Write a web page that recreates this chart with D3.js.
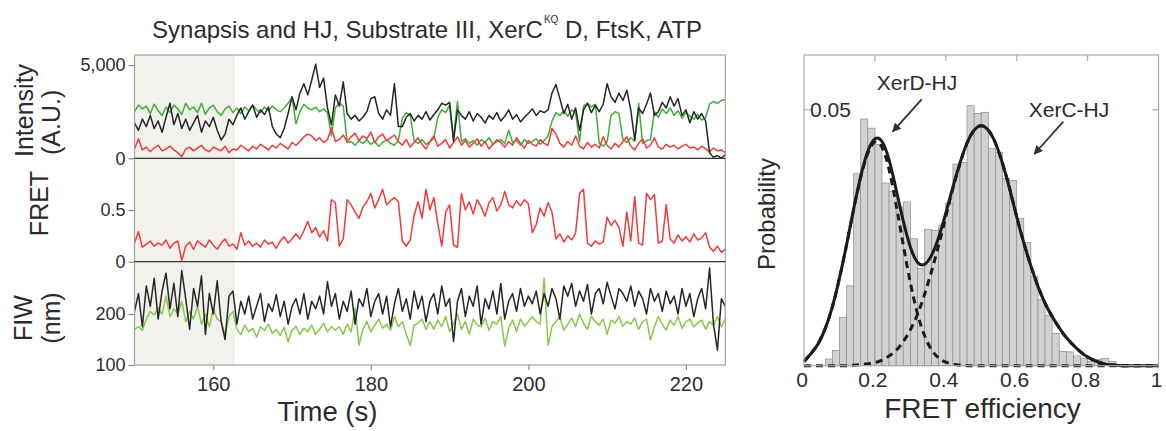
<!DOCTYPE html>
<html>
<head>
<meta charset="utf-8">
<script src="https://cdn.jsdelivr.net/npm/d3@7"></script>
<style>
body{margin:0;background:#fff;}
text{font-family:"Liberation Sans",Arial,Helvetica,sans-serif;fill:#2b2b2b;}
</style>
</head>
<body>
<svg id="chart" width="1166" height="431"></svg>
<script>
// ---- trace data (one value every frameStep seconds, starting at frameStart) ----
var frameStart = 150, frameStep = 0.5;
var shadeEnd = 162.75;
var timeTicks = [160, 180, 200, 220];

var greenIntensity = [2500,2850,2650,2800,2400,2900,2550,2300,2750,2450,
  2850,2650,2350,2950,2600,2750,2450,2950,2350,2700,
  2850,2500,2300,2650,2800,2450,
  2700,2400,2750,2550,2850,2600,2450,2750,2550,2800,2600,2500,2700,
  2950,3250,1850,2500,2900,2700,2600,2750,2500,2650,2450,
  1200,2700,2950,2800,850,
  900,700,950,800,1000,750,900,650,850,1000,800,700,950,
  2150,2450,2300,
  950,800,1000,750,900,1050,
  2200,2600,2450,2850,1100,3050,
  900,1050,800,950,700,1000,850,1100,750,900,1000,800,1500,850,950,700,1000,800,900,1050,750,950,1200,
  2000,2450,2300,2550,2250,2600,2400,
  900,
  2800,2950,2750,2900,
  800,650,900,
  2300,2500,2400,
  1000,850,1100,900,
  2950,
  800,950,1000,
  2500,2200,2650,2400,2700,2300,2550,2150,2450,2250,2100,2350,2050,2200,
  2900,3050,2950,3100,3150];

var blackIntensity = [1900,1500,2100,1700,2300,1600,2000,1400,2200,2950,
  1800,2400,1600,2100,1500,1900,2300,1400,2000,1700,
  2200,1500,980,1300,2100,1800,
  2300,2700,2100,2500,2850,2200,2600,2350,2750,
  1700,1300,1100,1600,
  2400,3300,2600,3500,
  4000,3400,4200,5050,3800,4300,2700,
  1800,3400,2800,4100,2400,2100,
  2300,2000,2200,2500,3200,3300,2400,2100,2600,
  2300,4000,1700,
  1700,2200,2400,2000,2300,2100,2500,2050,2350,
  2600,2950,2850,3000,
  900,2600,2300,2100,2500,2000,2400,2200,1900,2300,2100,2450,2000,2250,2600,2100,2350,1950,2200,
  2400,2650,2300,2550,2450,2600,
  3500,3950,3200,
  2400,2900,2100,2700,
  1500,
  2600,2950,2450,2850,2500,
  2900,4000,
  3300,3000,3500,3100,
  3650,2600,980,
  2700,2400,2900,
  3500,2300,2500,
  3000,2700,3300,2800,3200,
  2300,2600,1900,2500,2100,2400,2000,
  300,50,150,0,200];

var redIntensity = [500,1050,450,600,350,550,700,400,500,650,
  450,300,90,500,600,400,550,700,450,350,
  600,500,400,650,300,500,
  450,700,550,400,650,500,750,600,450,700,
  550,800,650,500,850,700,900,1150,1300,1200,
  950,1100,850,1000,
  1650,900,
  1000,1250,900,1150,1350,950,1200,1050,1400,850,1150,1300,950,1100,1250,900,
  700,1000,600,850,1100,750,500,900,1200,650,
  800,1000,550,850,1150,700,950,600,800,1050,
  650,900,500,750,1000,850,600,900,700,1100,
  800,550,950,750,650,1000,800,700,
  1600,1300,
  800,600,900,700,1200,650,500,850,600,750,
  550,1150,700,500,800,600,900,1150,650,450,
  800,1050,550,700,1100,600,500,750,600,700,
  500,650,750,550,600,450,650,500,350,550,
  400,450,300];

var fretTrace = [0.18,0.29,0.14,0.17,0.2,0.15,0.18,0.16,0.21,0.13,
  0.18,0.2,0.01,0.15,0.19,0.12,0.2,0.17,0.14,0.21,
  0.16,0.12,0.18,0.22,0.15,0.17,
  0.12,0.28,0.16,0.2,0.15,0.18,0.14,0.21,0.17,0.19,0.13,0.2,0.24,0.18,0.22,
  0.27,0.22,0.3,0.39,0.28,0.33,0.24,0.3,0.2,
  0.6,0.57,0.15,0.22,0.6,
  0.55,0.48,0.42,0.53,0.58,0.66,0.52,0.6,0.7,0.55,0.59,0.62,
  0.58,
  0.2,0.15,0.21,
  0.45,0.58,0.42,0.7,0.5,0.62,
  0.37,0.15,0.48,0.55,0.16,0.14,
  0.66,0.5,0.58,0.46,0.6,0.53,0.44,0.57,0.62,0.49,0.55,
  0.68,
  0.55,0.52,0.59,0.54,0.6,0.56,
  0.28,0.36,
  0.52,0.44,0.57,0.48,
  0.22,0.27,0.19,0.25,0.21,0.28,
  0.66,0.7,
  0.18,0.15,0.2,0.17,0.19,
  0.43,0.35,0.4,0.33,
  0.15,0.48,0.2,0.63,0.18,0.16,
  0.66,0.6,0.65,
  0.18,0.2,0.55,
  0.22,0.18,0.26,0.2,0.24,0.19,0.27,0.21,0.23,
  0.28,
  0.14,0.1,0.15,0.09,0.12];

var blackFiw = [205,240,175,255,215,270,190,245,280,210,
  260,195,285,230,170,250,215,275,160,240,
  200,265,185,150,235,245,
  180,225,200,235,190,215,240,185,220,205,238,195,225,180,215,230,200,240,190,225,210,235,200,263,215,
  240,190,225,205,245,180,230,215,250,195,225,240,200,235,175,220,250,205,230,190,245,210,235,185,225,
  240,200,255,215,230,146,225,250,195,235,215,255,180,230,210,245,200,260,190,225,240,205,250,215,235,
  220,245,200,240,215,250,230,190,255,235,260,215,245,225,258,200,240,250,220,262,235,210,250,240,225,
  255,215,245,230,200,250,225,240,205,245,220,235,200,250,215,240,195,230,250,210,290,180,129,230,215];

var greenFiw = [170,175,168,190,205,198,212,200,235,195,
  210,200,225,185,205,190,215,180,200,175,
  210,190,185,160,195,205,
  170,160,178,165,172,155,175,168,180,162,170,158,174,145,168,176,160,172,165,178,160,170,182,165,175,
  168,175,160,180,165,212,139,170,185,165,178,190,172,180,168,195,175,185,160,138,178,182,190,170,185,
  170,188,175,195,165,180,200,170,185,160,190,178,175,192,168,185,180,195,137,172,188,165,190,176,185,
  195,185,180,270,139,175,185,195,168,180,192,175,200,182,170,195,185,178,190,160,188,182,195,176,185,
  180,192,170,185,190,149,175,195,180,168,188,178,195,172,185,190,175,182,188,170,185,178,195,175,190];

// ---- histogram + Gaussian fit curves (probability per 0.02 bin) ----
var binWidth = 0.02;
var fretHist = [0,0,0,0.0013,0.0030,0.0094,0.0156,0.0375,0.0482,0.0464,
  0.0432,0.0357,0.0340,0.0310,0.0320,0.0248,0.0190,0.0266,0.0264,0.0275,
  0.0318,0.0394,0.0397,0.0508,0.0493,0.0495,0.0424,0.0417,0.0366,0.0362,
  0.0288,0.0241,0.0174,0.0129,0.0098,0.0063,0.0028,0.0027,0.0019,0.0014,
  0.0008,0.0012,0.0014,0.0008,0,0,0,0,0,0];
// fit curves sampled every 0.02 from 0 to 1
var xerdFit = [0.0008,0.0024,0.0043,0.0073,0.0115,0.0171,0.0236,0.0305,0.0368,0.0415,
  0.0437,0.0427,0.0383,0.0314,0.0236,0.0162,0.0102,0.0059,0.0031,0.0015,
  0.0007,0.0003,0.0001,0,0,0,0,0,0,0,
  0,0,0,0,0,0,0,0,0,0,
  0,0,0,0,0,0,0,0,0,0,0];
var xercFit = [0,0,0,0,0,0,0,0.0001,0.0002,0.0004,
  0.0006,0.0011,0.0019,0.0030,0.0047,0.0070,0.0100,0.0139,0.0185,0.0236,
  0.0291,0.0346,0.0395,0.0435,0.0460,0.0469,0.0460,0.0435,0.0395,0.0346,
  0.0291,0.0240,0.0195,0.0155,0.0122,0.0096,0.0074,0.0055,0.0040,0.0027,
  0.0017,0.0010,0.0005,0.0002,0.0001,0,0,0,0,0,0];
var histTicks = [0, 0.2, 0.4, 0.6, 0.8, 1];

var svg = d3.select("#chart");
var font = "'Liberation Sans',Arial,Helvetica,sans-serif";

// ================= left: time traces =================
var plotLeft = 134.5, plotRight = 725.3, plotTop = 55, plotBottom = 365;
var x = d3.scaleLinear().domain([150, 225]).range([plotLeft, plotRight]);
var yI = d3.scaleLinear().domain([0, 5540]).range([158.3, plotTop]);
var yF = d3.scaleLinear().domain([0, 1]).range([261.7, 158.3]);
var yW = d3.scaleLinear().domain([100, 302.5]).range([plotBottom, 261.7]);

function tAt(i){ return frameStart + i*frameStep; }

svg.append("rect")
  .attr("x", x(150)).attr("y", plotTop)
  .attr("width", x(shadeEnd) - x(150)).attr("height", plotBottom - plotTop)
  .attr("fill", "#f2f1ec");

var defs = svg.append("defs");
function clip(id, y0, y1){
  defs.append("clipPath").attr("id", id).append("rect")
    .attr("x", plotLeft).attr("y", y0).attr("width", plotRight - plotLeft).attr("height", y1 - y0);
  return "url(#" + id + ")";
}
var clipI = clip("clipI", plotTop, 158.3),
    clipF = clip("clipF", 158.3, 261.7),
    clipW = clip("clipW", 261.7, plotBottom);

function trace(data, yScale, colour, clipUrl, width){
  var line = d3.line().x(function(d,i){return x(tAt(i));}).y(function(d){return yScale(d);});
  svg.append("path").datum(data)
    .attr("d", line).attr("fill", "none")
    .attr("stroke", colour).attr("stroke-width", width || 1.5)
    .attr("stroke-linejoin", "round")
    .attr("clip-path", clipUrl);
}
trace(greenIntensity, yI, "#3fae3a", clipI);
trace(redIntensity, yI, "#ef3b3b", clipI);
trace(blackIntensity, yI, "#262626", clipI);
trace(fretTrace, yF, "#ef3b3b", clipF);
trace(greenFiw, yW, "#86c84a", clipW);
trace(blackFiw, yW, "#262626", clipW);

// frame + panel dividers
svg.append("rect").attr("x", plotLeft).attr("y", plotTop)
  .attr("width", plotRight - plotLeft).attr("height", plotBottom - plotTop)
  .attr("fill", "none").attr("stroke", "#a3a3a3").attr("stroke-width", 1.2);
[yI(0), yF(0)].forEach(function(yy){
  svg.append("line").attr("x1", plotLeft).attr("x2", plotRight).attr("y1", yy).attr("y2", yy)
    .attr("stroke", "#333").attr("stroke-width", 1.2);
});

function styleAxis(g, size){
  g.attr("font-family", font).attr("font-size", size);
  g.select(".domain").remove();
  g.selectAll(".tick line").attr("stroke", "#8a8a8a").attr("stroke-width", 1.2);
  g.selectAll(".tick text").attr("fill", "#2b2b2b");
}
svg.append("g").attr("transform", "translate(" + plotLeft + ",0)")
  .call(d3.axisLeft(yI).tickValues([0, 5000]).tickFormat(d3.format(",")).tickSize(6).tickPadding(3))
  .call(styleAxis, 18);
svg.append("g").attr("transform", "translate(" + plotLeft + ",0)")
  .call(d3.axisLeft(yF).tickValues([0, 0.5]).tickFormat(function(d){return d === 0 ? "0" : "0.5";}).tickSize(6).tickPadding(3))
  .call(styleAxis, 18);
svg.append("g").attr("transform", "translate(" + plotLeft + ",0)")
  .call(d3.axisLeft(yW).tickValues([100, 200]).tickSize(6).tickPadding(3))
  .call(styleAxis, 18);
svg.append("g").attr("transform", "translate(0," + plotBottom + ")")
  .call(d3.axisBottom(x).tickValues(timeTicks).tickSize(5).tickPadding(7))
  .call(styleAxis, 20);

function rotLabel(txt, xx, yy, anchor, size){
  svg.append("text").attr("transform", "translate(" + xx + "," + yy + ") rotate(-90)")
    .attr("text-anchor", anchor).attr("font-size", size).text(txt);
}
rotLabel("Intensity", 33, 157, "start", 25);
rotLabel("(A.U.)", 60, 155, "start", 25);
rotLabel("FRET", 48, 203.5, "middle", 25);
rotLabel("FIW", 32, 318, "middle", 25);
rotLabel("(nm)", 60, 318, "middle", 25);

svg.append("text").attr("x", 327.5).attr("y", 421).attr("text-anchor", "middle")
  .attr("font-size", 27.5).text("Time (s)");

var title = svg.append("text").attr("x", 427).attr("y", 38)
  .attr("text-anchor", "middle").attr("font-size", 24);
title.append("tspan").text("Synapsis and HJ, Substrate III, XerC");
title.append("tspan").attr("font-size", 10).attr("dy", -15).attr("dx", 1).text("KQ");
title.append("tspan").attr("dy", 15).text(" D, FtsK, ATP");

// ================= right: FRET histogram =================
var xr = d3.scaleLinear().domain([0, 1]).range([804, 1158.5]);
var yr = d3.scaleLinear().domain([0, 0.0607]).range([365.7, 55]);

svg.append("g").selectAll("rect.bar")
  .data(fretHist.map(function(p,k){return {lo: k*binWidth, p: p};}).filter(function(d){return d.p > 0;}))
  .enter().append("rect").attr("class", "bar")
  .attr("x", function(d){return xr(d.lo);})
  .attr("width", function(d){return xr(d.lo + binWidth) - xr(d.lo);})
  .attr("y", function(d){return yr(d.p);})
  .attr("height", function(d){return yr(0) - yr(d.p);})
  .attr("fill", "#d1d1d1").attr("stroke", "#8c8c8c").attr("stroke-width", 0.7);

var fitLine = d3.line().curve(d3.curveNatural)
  .x(function(d,i){return xr(i*binWidth);}).y(function(d){return yr(Math.max(d, 0));});
[xerdFit, xercFit].forEach(function(f){
  svg.append("path").datum(f).attr("d", fitLine).attr("fill", "none")
    .attr("stroke", "#1c1c1c").attr("stroke-width", 3).attr("stroke-dasharray", "7,5");
});
var fitSum = xerdFit.map(function(d,i){return d + xercFit[i];});
svg.append("path").datum(fitSum).attr("d", fitLine).attr("fill", "none")
  .attr("stroke", "#1c1c1c").attr("stroke-width", 3);

svg.append("rect").attr("x", xr(0)).attr("y", yr.range()[1])
  .attr("width", xr(1) - xr(0)).attr("height", yr(0) - yr.range()[1])
  .attr("fill", "none").attr("stroke", "#a8a8a8").attr("stroke-width", 1.2);
[0.2, 0.4, 0.6, 0.8].forEach(function(v){
  svg.append("line").attr("x1", xr(v)).attr("x2", xr(v)).attr("y1", 55).attr("y2", 61)
    .attr("stroke", "#a8a8a8").attr("stroke-width", 1.2);
});
svg.append("line").attr("x1", xr(0)).attr("x2", xr(0) + 6).attr("y1", yr(0.05)).attr("y2", yr(0.05))
  .attr("stroke", "#a8a8a8").attr("stroke-width", 1.2);
svg.append("line").attr("x1", xr(1)).attr("x2", xr(1) - 6).attr("y1", yr(0.05)).attr("y2", yr(0.05))
  .attr("stroke", "#a8a8a8").attr("stroke-width", 1.2);

svg.append("g").selectAll("text").data(histTicks).enter().append("text")
  .attr("x", function(d){return xr(d) - 2;}).attr("y", 387)
  .attr("text-anchor", "middle").attr("font-size", 21)
  .text(function(d){return d === 0 ? "0" : d === 1 ? "1" : d3.format(".1f")(d);});
svg.append("text").attr("x", 810).attr("y", 116.5).attr("font-size", 21).text("0.05");
rotLabel("Probability", 775, 214, "middle", 24);
svg.append("text").attr("x", 982.5).attr("y", 418).attr("text-anchor", "middle")
  .attr("font-size", 28).text("FRET efficiency");

defs.append("marker").attr("id", "arrow").attr("viewBox", "0 0 10 10")
  .attr("refX", 9).attr("refY", 5).attr("markerWidth", 5).attr("markerHeight", 5)
  .attr("orient", "auto").append("path").attr("d", "M0,0L10,5L0,10z").attr("fill", "#333");
function arrow(x1, y1, x2, y2){
  svg.append("line").attr("x1", x1).attr("y1", y1).attr("x2", x2).attr("y2", y2)
    .attr("stroke", "#333").attr("stroke-width", 1.8).attr("marker-end", "url(#arrow)");
}
svg.append("text").attr("x", 917).attr("y", 90).attr("text-anchor", "middle").attr("font-size", 21).text("XerD-HJ");
svg.append("text").attr("x", 1069).attr("y", 117).attr("text-anchor", "middle").attr("font-size", 21).text("XerC-HJ");
arrow(921.7, 99.3, 892.7, 131.7);
arrow(1063.3, 121.7, 1034.3, 154);
</script>
</body>
</html>
